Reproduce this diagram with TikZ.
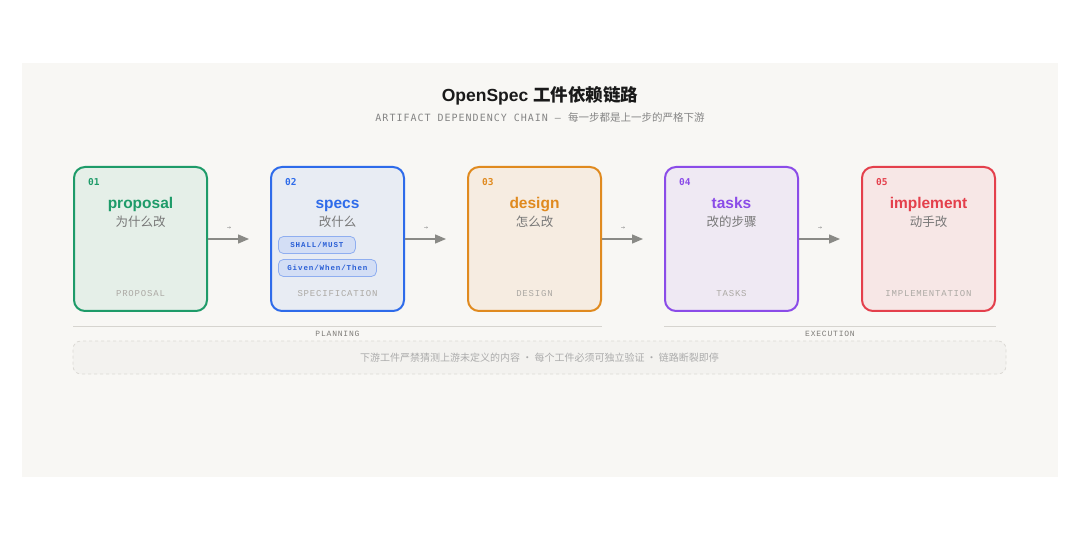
\documentclass[tikz,border=0pt]{standalone}
\usepackage{fontspec}
\setmainfont{Liberation Sans}
\newfontfamily\cjk{Noto Sans CJK SC}
\newfontfamily\numfont{DejaVu Sans Mono}
\newfontfamily\lblfont[LetterSpace=9]{Liberation Mono}
\newfontfamily\pillfont[LetterSpace=12]{Liberation Mono}
\newfontfamily\subfont[LetterSpace=10]{DejaVu Sans Mono}
\newfontfamily\grpfont[LetterSpace=10]{Liberation Mono}
\newfontfamily\symfont{DejaVu Sans}
\usetikzlibrary{arrows.meta}
\definecolor{panel}{HTML}{F8F7F4}
\definecolor{cgreen}{HTML}{1E9B69}
\definecolor{fgreen}{HTML}{E5EFE8}
\definecolor{cblue}{HTML}{2E6BEA}
\definecolor{fblue}{HTML}{E8ECF3}
\definecolor{corange}{HTML}{E08A1F}
\definecolor{forange}{HTML}{F6ECE1}
\definecolor{cpurple}{HTML}{8B4CE8}
\definecolor{fpurple}{HTML}{EFE9F3}
\definecolor{cred}{HTML}{E4404C}
\definecolor{fred}{HTML}{F7E7E6}
\definecolor{pillfill}{HTML}{D3DEF5}
\definecolor{pillline}{HTML}{8FAEF0}
\definecolor{pilltext}{HTML}{2A5FD6}
\definecolor{arrowgray}{HTML}{8A8A86}
\definecolor{cngray}{HTML}{777777}
\definecolor{lblgray}{HTML}{ACA9A4}
\definecolor{subgray}{HTML}{858585}
\definecolor{titleblack}{HTML}{1A1A1A}
\definecolor{grpline}{HTML}{D6D4CF}
\definecolor{grptext}{HTML}{7E7C78}
\definecolor{dashfill}{HTML}{F3F2EF}
\definecolor{dashline}{HTML}{DCDAD5}
\definecolor{notegray}{HTML}{ABABAB}
\tikzset{
  artbox/.style={rounded corners=11pt, line width=2pt, minimum width=133pt, minimum height=144pt, inner sep=0pt},
  numlbl/.style={font=\numfont\bfseries\fontsize{9.5}{10}\selectfont, inner sep=0pt},
  ttl/.style={font=\bfseries\fontsize{15.5}{17}\selectfont, inner sep=0pt},
  cnsub/.style={font=\cjk\fontsize{12.5}{14}\selectfont, text=cngray, inner sep=0pt},
  botlbl/.style={font=\lblfont\fontsize{9}{10}\selectfont, text=lblgray, inner sep=0pt},
  flow/.style={draw=arrowgray, line width=1.4pt, -{Triangle[length=11pt,width=9pt]}},
  tinyarrow/.style={font=\symfont\fontsize{5}{6}\selectfont, text=cngray, inner sep=0pt},
  pill/.style={draw=pillline, fill=pillfill, line width=0.8pt, rounded corners=5pt, minimum height=17pt, inner sep=0pt, font=\pillfont\bfseries\fontsize{7.5}{8}\selectfont, text=pilltext},
  grp/.style={draw=grpline, line width=1pt},
  grplbl/.style={font=\grpfont\fontsize{8}{9}\selectfont, text=grptext, inner sep=0pt},
  notebox/.style={draw=dashline, dashed, fill=dashfill, line width=0.8pt, rounded corners=8pt, minimum width=933pt, minimum height=33pt, inner sep=0pt, font=\cjk\fontsize{10}{12}\selectfont, text=notegray}
}
\newcommand{\artbox}[8]{%
  \node[artbox, draw=#3, fill=#4] (#1) at (#2,239) {};
  \node[numlbl, text=#3, anchor=west] (#1num) at (#2-52.5,182) {#5};
  \node[ttl, text=#3, anchor=base] (#1ttl) at (#2,208.5) {#6};
  \node[cnsub, anchor=base] (#1cn) at (#2,226.5) {#7};
  \node[botlbl, anchor=base] (#1lbl) at (#2,296.5) {#8};
}
\begin{document}
\begin{tikzpicture}[x=1pt,y=-1pt]
\useasboundingbox (0,0) rectangle (1080,540);
\fill[white] (0,0) rectangle (1080,540);
\fill[panel] (22,63) rectangle (1058,477);
% title
\node[inner sep=0pt, text=titleblack, font=\bfseries\fontsize{17.5}{20}\selectfont] (title) at (540,96) {OpenSpec {\cjk 工件依赖链路}};
\node[inner sep=0pt, text=subgray] (subtitle) at (540,117) {{\subfont\fontsize{10}{12}\selectfont ARTIFACT DEPENDENCY CHAIN — }{\cjk\fontsize{10.5}{12}\selectfont 每一步都是上一步的严格下游}};
% boxes
\artbox{b1}{140.5}{cgreen}{fgreen}{01}{proposal}{为什么改}{PROPOSAL}
\artbox{b2}{337.5}{cblue}{fblue}{02}{specs}{改什么}{SPECIFICATION}
\artbox{b3}{534.5}{corange}{forange}{03}{design}{怎么改}{DESIGN}
\artbox{b4}{731.5}{cpurple}{fpurple}{04}{tasks}{改的步骤}{TASKS}
\artbox{b5}{928.5}{cred}{fred}{05}{implement}{动手改}{IMPLEMENTATION}
% pills
\node[pill, anchor=west, minimum width=77pt] (pill1) at (278,245) {SHALL/MUST};
\node[pill, anchor=west, minimum width=98pt] (pill2) at (278,268) {Given/When/Then};
% arrows
\coordinate (e1) at (249,239);
\coordinate (e2) at (446,239);
\coordinate (e3) at (643,239);
\coordinate (e4) at (840,239);
\draw[flow] (b1.east) -- (e1);
\draw[flow] (b2.east) -- (e2);
\draw[flow] (b3.east) -- (e3);
\draw[flow] (b4.east) -- (e4);
\node[tinyarrow] (t1) at (229,228) {→};
\node[tinyarrow] (t2) at (426,228) {→};
\node[tinyarrow] (t3) at (623,228) {→};
\node[tinyarrow] (t4) at (820,228) {→};
% groups
\coordinate (p1) at (73,326.5);
\coordinate (p2) at (602,326.5);
\coordinate (x1) at (664,326.5);
\coordinate (x2) at (996,326.5);
\draw[grp] (p1) -- (p2);
\draw[grp] (x1) -- (x2);
\node[grplbl] (plan) at (337.5,334) {PLANNING};
\node[grplbl] (exec) at (830,334) {EXECUTION};
% note
\node[notebox] (note) at (539.5,357.5) {下游工件严禁猜测上游未定义的内容 · 每个工件必须可独立验证 · 链路断裂即停};
\end{tikzpicture}
\end{document}
